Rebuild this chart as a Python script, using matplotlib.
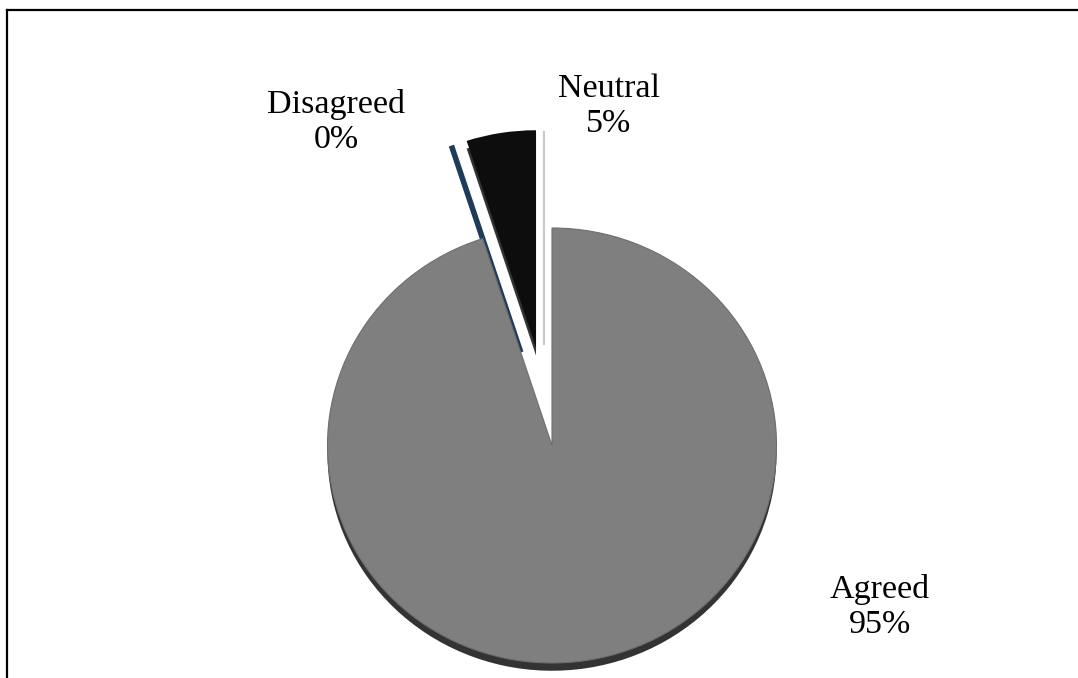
import numpy as np
import matplotlib
matplotlib.use('Agg')
import matplotlib.pyplot as plt
from matplotlib.lines import Line2D

# survey responses
labels = ['Neutral', 'Disagreed', 'Agreed']
values = [5, 0, 95]
colors = ['#0d0d0d', '#1f3b5a', '#7f7f7f']
explode = [0.455, 0.45, 0.0]   # as a fraction of the radius

# where each label sits (figure pixels, from top-left)
label_pos = {'Neutral': (609, 106), 'Disagreed': (336, 122), 'Agreed': (880, 607)}

W, H = 1078, 678
fig = plt.figure(figsize=(W / 100.0, H / 100.0), dpi=100)
ax = fig.add_axes([0, 0, 1, 1])

# slightly squashed vertically to give the tilted look
squash = 224.5 / 217.5
cx, cy = 552, (H - 445.5) * squash
r = 224.5
expl = [e * r for e in explode]

# dark rim underneath
shadow, _ = ax.pie(values, colors=['#333333'] * 3, explode=expl, startangle=90,
                   counterclock=True, center=(cx, cy - 8), radius=r, frame=True,
                   wedgeprops=dict(linewidth=0))
for w in shadow:
    w.set_zorder(1)

wedges, _ = ax.pie(values, colors=colors, explode=expl, startangle=90,
                   counterclock=True, center=(cx, cy), radius=r, frame=True,
                   wedgeprops=dict(linewidth=0))
for w in wedges:
    w.set_zorder(2)

# the empty slice only shows as its edge
wedges[1].set_edgecolor('#1f3b5a')
wedges[1].set_linewidth(4)
wedges[1].set_joinstyle('round')

wedges[2].set_edgecolor('#6e6e6e')
wedges[2].set_linewidth(0.8)

# pale side face on the right of the pulled-out slice
nx, ny = wedges[0].center
ax.plot([nx + 8, nx + 8], [ny + 4, ny + r - 2], color='#c8c8c8', lw=1.5, zorder=1.5)

ax.set_xlim(0, W)
ax.set_ylim(0, H * squash)
ax.set_aspect('auto')
ax.axis('off')

for name, v in zip(labels, values):
    x, y = label_pos[name]
    fig.text(x / W, 1 - y / H, '%s\n%d%%' % (name, v), ha='center', va='center',
             family='Liberation Serif', fontsize=24.5, linespacing=1.2)

# chart border, top and left edges
fig.add_artist(Line2D([6.5 / W, 6.5 / W], [0, 1 - 10 / H], transform=fig.transFigure,
                      color='black', lw=1.6))
fig.add_artist(Line2D([6.5 / W, 1], [1 - 10 / H, 1 - 10 / H], transform=fig.transFigure,
                      color='black', lw=1.6))

fig.savefig('out.png', dpi=100)
